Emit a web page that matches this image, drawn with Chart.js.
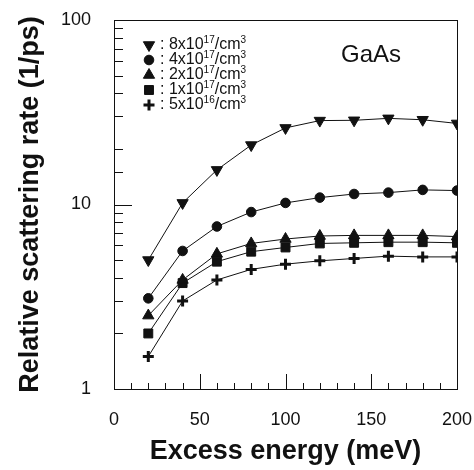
<!DOCTYPE html>
<html>
<head>
<meta charset="utf-8">
<title>GaAs scattering rate</title>
<script src="https://cdn.jsdelivr.net/npm/chart.js"></script>
<style>
  html, body { margin: 0; padding: 0; background: #fff; }
  canvas { display: block; }
</style>
</head>
<body>
<canvas id="rateChart" width="474" height="470"></canvas>
<script>
// excess energy (meV)
const energy = [20, 40, 60, 80, 100, 120, 140, 160, 180, 200];

// relative scattering rate (1/ps) for each doping level
const n8e17 = [5.0, 10.2, 15.4, 21.0, 26.0, 28.5, 28.6, 29.3, 28.8, 27.5];
const n4e17 = [3.1, 5.6, 7.6, 9.1, 10.2, 10.9, 11.4, 11.6, 12.0, 11.9];
const n2e17 = [2.5, 3.9, 5.4, 6.15, 6.5, 6.75, 6.8, 6.8, 6.8, 6.7];
const n1e17 = [2.0, 3.75, 4.9, 5.55, 5.85, 6.15, 6.2, 6.25, 6.25, 6.2];
const n5e16 = [1.5, 3.0, 3.9, 4.45, 4.75, 4.95, 5.1, 5.25, 5.2, 5.2];

// legend text pieces: "<coef>x10^<expo>/cm^3"
const dopingCoef = ['8', '4', '2', '1', '5'];
const dopingExpo = ['17', '17', '17', '17', '16'];

const xTicks = [0, 50, 100, 150, 200];
const yTicks = [1, 10, 100];

const FONT = '"Liberation Sans", Arial, Helvetica, sans-serif';

function series(values, style, radius, rotation, width) {
    return {
        data: values.map((v, i) => ({ x: energy[i], y: v })),
        borderColor: '#111',
        backgroundColor: '#111',
        borderWidth: 1,
        pointStyle: style,
        pointRadius: radius,
        pointRotation: rotation,
        pointBorderWidth: width,
        pointBackgroundColor: '#111',
        pointBorderColor: '#111',
        tension: 0
    };
}

const datasets = [
    series(n8e17, 'triangle', 6.5, 180, 1),
    series(n4e17, 'circle', 4.8, 0, 1),
    series(n2e17, 'triangle', 6.5, 0, 1),
    series(n1e17, 'rect', 6.3, 0, 1),
    series(n5e16, 'cross', 5.5, 0, 3)
];

// frame plus inward tick marks on the left and bottom axes
const frameTicks = {
    id: 'frameTicks',
    afterDraw(chart) {
        const ctx = chart.ctx;
        const area = chart.chartArea;
        const xs = chart.scales.x;
        const ys = chart.scales.y;
        ctx.save();
        ctx.strokeStyle = '#111';
        ctx.lineWidth = 1;
        ctx.strokeRect(area.left + 0.5, area.top + 0.5, area.right - area.left, area.bottom - area.top);

        ys.ticks.forEach(t => {
            const y = Math.round(ys.getPixelForValue(t.value)) + 0.5;
            const len = yTicks.includes(t.value) ? 18 : 9;
            ctx.beginPath();
            ctx.moveTo(area.left, y);
            ctx.lineTo(area.left + len, y);
            ctx.stroke();
        });

        xs.ticks.forEach(t => {
            const x = Math.round(xs.getPixelForValue(t.value)) + 0.5;
            const len = xTicks.includes(t.value) ? 15 : 6;
            ctx.beginPath();
            ctx.moveTo(x, area.bottom);
            ctx.lineTo(x, area.bottom - len);
            ctx.stroke();
        });
        ctx.restore();
    }
};

// doping legend with superscripts, and the material label
const dopingLegend = {
    id: 'dopingLegend',
    afterDraw(chart) {
        const ctx = chart.ctx;
        const lx = 149, ly0 = 45, step = 15;
        ctx.save();
        chart.data.datasets.forEach((ds, i) => {
            const y = ly0 + i * step;
            ctx.fillStyle = '#111';
            ctx.strokeStyle = '#111';
            ctx.lineWidth = ds.pointBorderWidth;
            Chart.helpers.drawPoint(ctx, {
                pointStyle: ds.pointStyle,
                rotation: ds.pointRotation,
                radius: ds.pointRadius,
                borderWidth: ds.pointBorderWidth
            }, lx, y);

            let x = 160;
            ctx.textBaseline = 'middle';
            ctx.textAlign = 'left';
            ctx.font = '16px ' + FONT;
            const a = ': ' + dopingCoef[i] + 'x10';
            ctx.fillText(a, x, y);
            x += ctx.measureText(a).width;
            ctx.font = '10px ' + FONT;
            ctx.fillText(dopingExpo[i], x, y - 5);
            x += ctx.measureText(dopingExpo[i]).width;
            ctx.font = '16px ' + FONT;
            ctx.fillText('/cm', x, y);
            x += ctx.measureText('/cm').width;
            ctx.font = '10px ' + FONT;
            ctx.fillText('3', x, y - 5);
        });

        ctx.font = '24px ' + FONT;
        ctx.textBaseline = 'middle';
        ctx.fillText('GaAs', 341, 55);
        ctx.restore();
    }
};

new Chart(document.getElementById('rateChart'), {
    type: 'line',
    data: { datasets: datasets },
    options: {
        responsive: false,
        animation: false,
        events: [],
        layout: { padding: { top: 20, right: 0, left: 0, bottom: 0 } },
        plugins: { legend: { display: false }, tooltip: { enabled: false } },
        scales: {
            x: {
                type: 'linear',
                min: 0,
                max: 200,
                grid: { display: false, drawTicks: false },
                border: { display: false },
                ticks: {
                    stepSize: 10,
                    autoSkip: false,
                    maxRotation: 0,
                    padding: 20,
                    color: '#111',
                    font: { family: FONT, size: 18 },
                    callback: v => xTicks.includes(v) ? String(v) : ''
                },
                title: {
                    display: true,
                    text: 'Excess energy (meV)',
                    color: '#111',
                    font: { family: FONT, size: 27, weight: 'bold' },
                    padding: { top: 0, bottom: 2 }
                },
                afterFit: s => {
                    s.height = 81;
                    s.paddingLeft = 0;
                    s.paddingRight = 17;
                }
            },
            y: {
                type: 'logarithmic',
                min: 1,
                max: 100,
                grid: { display: false, drawTicks: false },
                border: { display: false },
                ticks: {
                    autoSkip: false,
                    padding: 23,
                    color: '#111',
                    font: { family: FONT, size: 18 },
                    callback: v => yTicks.includes(v) ? String(v) : ''
                },
                title: {
                    display: true,
                    text: 'Relative scattering rate (1/ps)',
                    color: '#111',
                    font: { family: FONT, size: 27, weight: 'bold' },
                    padding: { top: 14, bottom: 0 }
                },
                afterFit: s => {
                    s.width = 114;
                    s.paddingTop = 0;
                    s.paddingBottom = 0;
                }
            }
        }
    },
    plugins: [frameTicks, dopingLegend]
});
</script>
</body>
</html>
